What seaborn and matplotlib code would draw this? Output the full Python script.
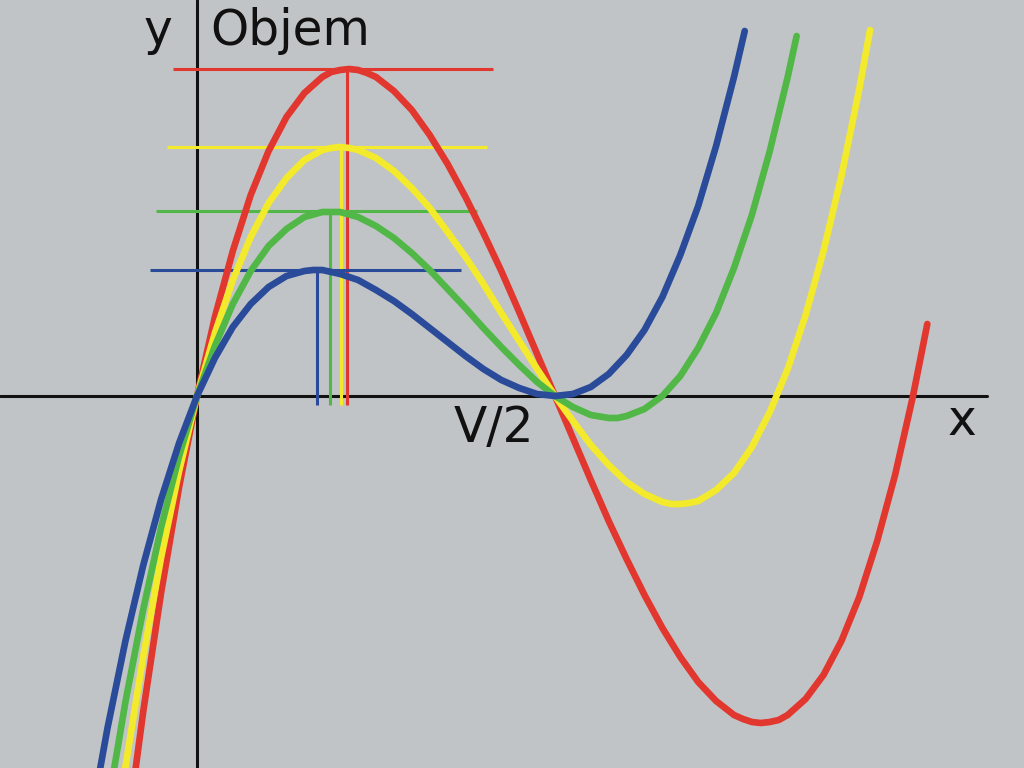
import matplotlib
matplotlib.use("Agg")
import matplotlib.pyplot as plt
import pandas as pd
import seaborn as sns

# x in units of V/2, y in units of 100 px
X_GRID = [-0.30, -0.25, -0.20, -0.15, -0.10, -0.05, 0.00, 0.05, 0.10, 0.15,
          0.20, 0.25, 0.30, 0.35, 0.40, 0.45, 0.50, 0.55, 0.60, 0.65,
          0.70, 0.75, 0.80, 0.85, 0.90, 0.95, 1.00, 1.05, 1.10, 1.15,
          1.20, 1.25, 1.30, 1.35, 1.40, 1.45, 1.50, 1.55, 1.60, 1.65,
          1.70, 1.75, 1.80, 1.85, 1.90, 1.95, 2.00]

red_y = [-7.62, -5.98, -4.49, -3.15, -1.96, -0.91, 0.00, 0.79, 1.45, 2.01,
         2.45, 2.79, 3.03, 3.19, 3.26, 3.26, 3.19, 3.05, 2.86, 2.61,
         2.32, 1.99, 1.63, 1.25, 0.84, 0.42, 0.00, -0.42, -0.84, -1.25,
         -1.63, -1.99, -2.32, -2.61, -2.86, -3.05, -3.19, -3.26, -3.26, -3.19,
         -3.03, -2.79, -2.45, -2.01, -1.45, -0.79, 0.00]
yellow_y = [-6.36, -4.97, -3.71, -2.60, -1.61, -0.75, 0.00, 0.63, 1.16, 1.59,
            1.93, 2.18, 2.36, 2.46, 2.49, 2.46, 2.38, 2.25, 2.08, 1.88,
            1.64, 1.39, 1.12, 0.83, 0.55, 0.27, 0.00, -0.25, -0.49, -0.69,
            -0.86, -0.98, -1.06, -1.08, -1.05, -0.94, -0.77, -0.51, -0.16, 0.27,
            0.81, 1.45, 2.20, 3.07]
green_y = [-5.30, -4.12, -3.06, -2.13, -1.31, -0.60, 0.00, 0.50, 0.92, 1.25,
           1.50, 1.67, 1.79, 1.84, 1.84, 1.79, 1.70, 1.58, 1.43, 1.26,
           1.07, 0.88, 0.68, 0.49, 0.31, 0.14, 0.00, -0.11, -0.19, -0.22,
           -0.20, -0.13, 0.00, 0.20, 0.48, 0.83, 1.28, 1.81, 2.45, 3.19]
blue_y = [-4.31, -3.32, -2.45, -1.69, -1.03, -0.47, 0.00, 0.38, 0.69, 0.92,
          1.09, 1.20, 1.25, 1.26, 1.22, 1.16, 1.06, 0.95, 0.82, 0.68,
          0.54, 0.40, 0.27, 0.16, 0.08, 0.02, 0.00, 0.02, 0.09, 0.22,
          0.41, 0.66, 0.99, 1.41, 1.90, 2.50, 3.19]

# extra readings around the turning points, plus the last point of each line
curve_names = ["red", "yellow", "green", "blue"]
extra_x = [
    [0.375, 0.425, 0.475, 1.525, 1.575, 1.625, 2.04],
    [0.375, 0.425, 1.325, 1.375, 1.88],
    [0.375, 1.175, 1.675],
    [0.325, 0.975, 1.025, 1.53],
]
extra_y = [
    [3.24, 3.27, 3.23, -3.23, -3.27, -3.24, 0.72],
    [2.48, 2.48, -1.08, -1.07, 3.66],
    [1.84, -0.22, 3.60],
    [1.26, 0.01, 0.01, 3.65],
]

# maxima: vertical drop lines and horizontal level lines
peak_x = [0.419, 0.402, 0.372, 0.335]
peak_y = [3.27, 2.49, 1.85, 1.26]
level_left = [-0.067, -0.084, -0.115, -0.131]
level_right = [0.827, 0.810, 0.782, 0.737]

colors = {"red": "#e1372e", "yellow": "#f3ea2c", "green": "#51b848", "blue": "#2a4a9a"}
bg = "#c1c4c6"

rows = []
for name, ys, ex, ey in zip(curve_names, [red_y, yellow_y, green_y, blue_y], extra_x, extra_y):
    for x, y in zip(X_GRID[:len(ys)] + ex, ys + ey):
        rows.append({"x": x, "y": y, "curve": name})
df = pd.DataFrame(rows).sort_values(["curve", "x"])

sns.set_style("white")
plt.rcParams["font.family"] = ["DejaVu Sans"]

fig = plt.figure(figsize=(10.24, 7.68), dpi=100, facecolor=bg)
ax = fig.add_axes([0, 0, 1, 1])
ax.set_facecolor(bg)

# axes drawn as plain lines
ax.plot([-0.5503, 2.2067], [0, 0], color="#111111", lw=2.2, zorder=1)
ax.plot([0, 0], [-3.72, 3.96], color="#111111", lw=2.2, zorder=1)

for name, px, py, x0, x1 in zip(curve_names, peak_x, peak_y, level_left, level_right):
    ax.hlines(py, x0, x1, color=colors[name], lw=2.2, zorder=2)
    ax.vlines(px, -0.09, py, color=colors[name], lw=2.2, zorder=2)

sns.lineplot(data=df, x="x", y="y", hue="curve", hue_order=curve_names,
             palette=colors, estimator=None, sort=False, lw=4.8,
             legend=False, ax=ax, zorder=3)

ax.text(-0.109, 3.51, "y", fontsize=35, ha="center", va="baseline", color="#111111")
ax.text(0.038, 3.51, "Objem", fontsize=35, ha="left", va="baseline", color="#111111")
ax.text(0.718, -0.46, "V/2", fontsize=35, ha="left", va="baseline", color="#111111")
ax.text(2.137, -0.39, "x", fontsize=35, ha="center", va="baseline", color="#111111")

ax.set_xlim(-0.5503, 2.3101)
ax.set_ylim(-3.72, 3.96)
ax.set_axis_off()

fig.savefig("out.png", dpi=100, facecolor=bg)
